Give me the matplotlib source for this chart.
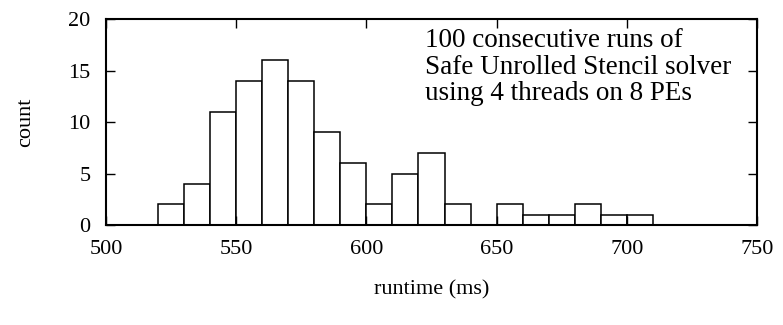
import numpy as np
import matplotlib.pyplot as plt

plt.rcParams['font.family'] = ['Liberation Serif', 'DejaVu Serif']

bin_left = [520, 530, 540, 550, 560, 570, 580, 590, 600, 610,
            620, 630, 640, 650, 660, 670, 680, 690, 700]
counts = [2, 4, 11, 14, 16, 14, 9, 6, 2, 5,
          7, 2, 0, 2, 1, 1, 2, 1, 1]
bin_width = 10

fig = plt.figure(figsize=(7.83, 3.25), dpi=100)
ax = fig.add_axes([0.1354, 0.3077, 0.8314, 0.6338])

ax.bar(bin_left, counts, width=bin_width, align='edge',
       facecolor='white', edgecolor='black', linewidth=1.1)

ax.set_xlim(500, 750)
ax.set_ylim(0, 20)
ax.set_xticks(np.arange(500, 751, 50))
ax.set_yticks(np.arange(0, 21, 5))
ax.tick_params(direction='in', top=True, right=True, length=6.5, width=1,
               labelsize=16)
ax.tick_params(axis='x', pad=11)
ax.tick_params(axis='y', pad=11)
for s in ax.spines.values():
    s.set_linewidth(1.5)

ax.set_xlabel('runtime (ms)', fontsize=16, labelpad=15)
ax.set_ylabel('count', fontsize=16, labelpad=24)

ax.text(0.4905, 0.955, '100 consecutive runs of\nSafe Unrolled Stencil solver\nusing 4 threads on 8 PEs',
        transform=ax.transAxes, ha='left', va='top', fontsize=19.5, linespacing=1.08)

fig.savefig('out.png', dpi=100)
